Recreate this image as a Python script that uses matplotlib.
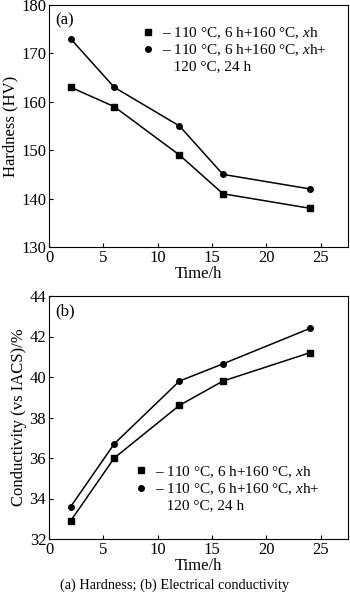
import matplotlib
matplotlib.use('Agg')
import matplotlib.pyplot as plt
from matplotlib.lines import Line2D

plt.rcParams['font.family'] = 'Liberation Serif'
plt.rcParams['mathtext.fontset'] = 'custom'
plt.rcParams['mathtext.it'] = 'Liberation Serif:italic'
plt.rcParams['mathtext.rm'] = 'Liberation Serif'

# data
time_h = [2, 6, 12, 16, 24]
hard_aged = [163, 159, 149, 141, 138]
hard_reaged = [173, 163, 155, 145, 142]
cond_aged = [32.9, 36.0, 38.6, 39.8, 41.2]
cond_reaged = [33.6, 36.7, 39.8, 40.65, 42.4]

labels = ['– 110 °C, 6 h+160 °C, $x$h',
          '– 110 °C, 6 h+160 °C, $x$h+',
          '   120 °C, 24 h']

fig = plt.figure(figsize=(3.5, 5.98), dpi=100)
ax1 = fig.add_axes([49/350, 1 - 247/598, 299/350, 242/598])
ax2 = fig.add_axes([49/350, 1 - 539/598, 299/350, 243/598])


def style(ax):
    ax.tick_params(direction='in', labelsize=12, length=3, width=0.8, pad=2)
    for s in ax.spines.values():
        s.set_linewidth(0.8)
    ax.set_xlim(0, 27.5)
    ax.set_xticks([0, 5, 10, 15, 20, 25])
    ax.set_xlabel('Time/h', fontsize=12, labelpad=0)


def add_legend(ax, anchor):
    handles = [Line2D([], [], color='black', marker='s', ls='', markersize=4),
               Line2D([], [], color='black', marker='o', ls='', markersize=4),
               Line2D([], [], ls='', marker='')]
    ax.legend(handles, labels, loc='upper left', bbox_to_anchor=anchor,
              frameon=False, fontsize=11, handlelength=0.6, handletextpad=0.6,
              labelspacing=0.1, borderaxespad=0, borderpad=0)


ax1.plot(time_h, hard_aged, color='black', marker='s', markersize=4, lw=1.1)
ax1.plot(time_h, hard_reaged, color='black', marker='o', markersize=4, lw=1.1)
ax1.set_ylim(130, 180)
ax1.set_yticks([130, 140, 150, 160, 170, 180])
ax1.set_ylabel('Hardness (HV)', fontsize=12, labelpad=2)
style(ax1)
ax1.text(0.02, 0.971, '(a)', transform=ax1.transAxes, fontsize=12, va='top')
add_legend(ax1, (0.316, 0.917))

ax2.plot(time_h, cond_aged, color='black', marker='s', markersize=4, lw=1.1)
ax2.plot(time_h, cond_reaged, color='black', marker='o', markersize=4, lw=1.1)
ax2.set_ylim(32, 44)
ax2.set_yticks([32, 34, 36, 38, 40, 42, 44])
ax2.set_ylabel('Conductivity (vs IACS)/%', fontsize=12, labelpad=2)
style(ax2)
ax2.text(0.02, 0.971, '(b)', transform=ax2.transAxes, fontsize=12, va='top')
add_legend(ax2, (0.294, 0.309))

fig.text(0.5, 1 - 585/598, '(a) Hardness; (b) Electrical conductivity',
         ha='center', va='center', fontsize=10.3)

fig.savefig('out.png', dpi=100)
